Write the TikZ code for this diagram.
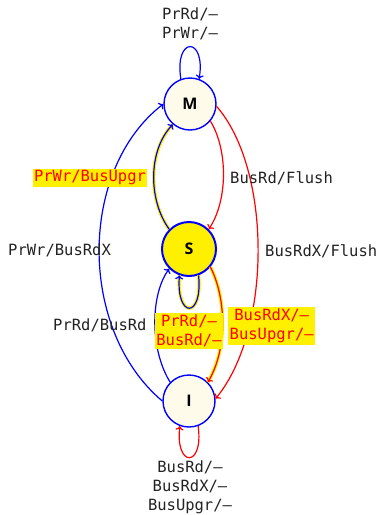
\documentclass[tikz,border=0pt]{standalone}
\usepackage{fontspec}
\setmainfont{DejaVu Sans Mono}
\newfontfamily\nodefont{Open Sans}
\usetikzlibrary{arrows.meta}
\definecolor{ivory}{RGB}{255,251,235}
\definecolor{hy}{RGB}{255,240,0}
\definecolor{tb}{RGB}{0,0,255}
\definecolor{tr}{RGB}{255,0,0}
\definecolor{tk}{RGB}{34,34,34}
\begin{document}
\begin{tikzpicture}[x=1pt,y=-1pt,
  state/.style={circle,draw=tb,line width=1.4pt,fill=ivory,minimum size=52pt,inner sep=0pt,
    font=\nodefont\bfseries\fontsize{16}{16}\selectfont,text=black},
  lbl/.style={font=\fontsize{15.5}{19}\selectfont,text=tk,align=center,inner sep=1pt},
  hl/.style={lbl,fill=hy,text=tr,inner sep=1.5pt},
  edge/.style={line width=1.2pt,-{To[length=4pt,width=8pt]}},
  halo/.style={preaction={draw=hy,line width=3.4pt,-}},
]
\useasboundingbox (0,0) rectangle (383,515);

\node[state] (M) at (190,104) {M};
\node[state,fill=hy,line width=2pt,minimum size=54pt] (S) at (189,249) {S};
\node[state] (I) at (189,401) {I};

% self loops
\draw[edge,tb] (M.110) .. controls (174,36) and (206,36) .. (M.70);
\draw[edge,tb,halo] (S.-70) .. controls (203,319) and (176,319) .. (S.-110);
\draw[edge,tr] (I.-70) .. controls (204,468) and (175,468) .. (I.-110);

% M -> S
\draw[edge,tr] (M.-40) .. controls (228,150) and (228,200) .. (S.45);
% S -> M
\draw[edge,tb,halo] (S.135) .. controls (148,200) and (148,150) .. (M.-130);
% I -> M
\draw[edge,tb] (I.180) .. controls (78,330) and (78,170) .. (M.180);
% M -> I
\draw[edge,tr] (M.-5) .. controls (272,170) and (272,330) .. (I.5);
% I -> S
\draw[edge,tb] (I.135) .. controls (150,350) and (150,295) .. (S.-135);
% S -> I
\draw[edge,tr,halo] (S.-40) .. controls (227,300) and (227,350) .. (I.45);

% labels
\node[lbl] (lM) at (190,24) {PrRd/–\\PrWr/–};
\node[lbl] (lI) at (190,487) {BusRd/–\\BusRdX/–\\BusUpgr/–};
\node[lbl,anchor=west] (lMS) at (229,178) {BusRd/Flush};
\node[hl] (lSM) at (90,178) {PrWr/BusUpgr};
\node[lbl,anchor=west] (lIM) at (7,250) {PrWr/BusRdX};
\node[lbl,anchor=west] (lMI) at (264,251) {BusRdX/Flush};
\node[lbl,anchor=west] (lIS) at (52,325) {PrRd/BusRd};
\node[hl] (lSS) at (189,331) {PrRd/–\\BusRd/–};
\node[hl,anchor=west] (lSI) at (228,326) {BusRdX/–\\BusUpgr/–};
\end{tikzpicture}
\end{document}
